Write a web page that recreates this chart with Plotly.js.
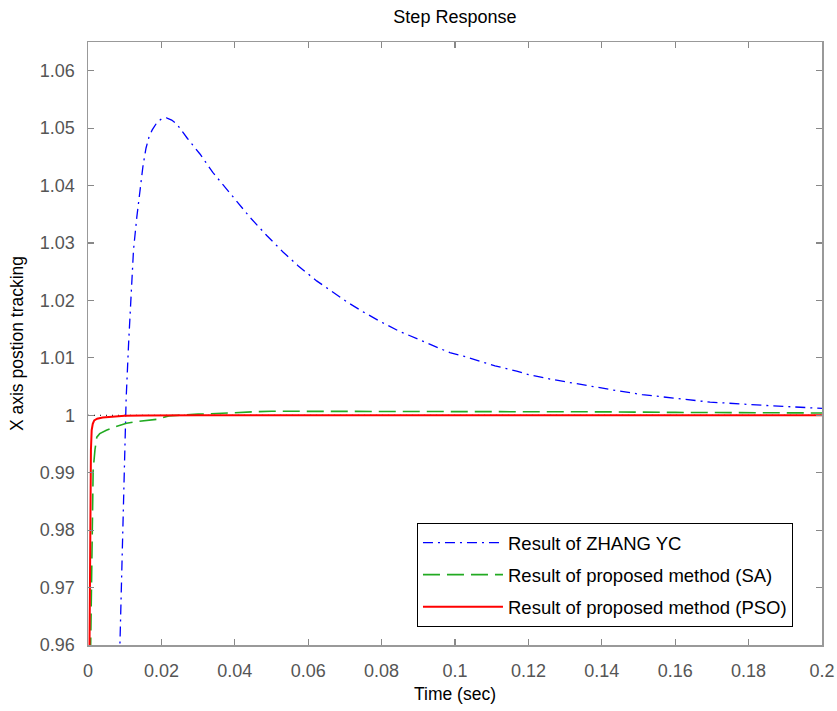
<!DOCTYPE html>
<html>
<head>
<meta charset="utf-8">
<script src="https://cdn.plot.ly/plotly-3.0.1.min.js"></script>
<style>html,body{margin:0;padding:0;background:#fff;}#chart{width:837px;height:711px;}</style>
</head>
<body>
<div id="chart"></div>
<script>
// Result of ZHANG YC
const zhangT = [0.0083, 0.0087, 0.0093, 0.0098, 0.0104, 0.0111, 0.0119, 0.0124, 0.0133, 0.0142, 0.0150, 0.0158, 0.0166, 0.0175, 0.0187, 0.0200, 0.0214, 0.0228, 0.0242, 0.0271, 0.0305, 0.0340, 0.0387, 0.0441, 0.0487, 0.0532, 0.0573, 0.0623, 0.0664, 0.0709, 0.0750, 0.0800, 0.0846, 0.0896, 0.0932, 0.0986, 0.1023, 0.1077, 0.1109, 0.1168, 0.1200, 0.1259, 0.1286, 0.1350, 0.1377, 0.1440, 0.1510, 0.1590, 0.1695, 0.1850, 0.1940, 0.2000];
const zhangY = [0.950, 0.960, 0.975, 0.990, 1.003, 1.013, 1.0218, 1.0288, 1.0345, 1.0392, 1.0435, 1.0465, 1.0484, 1.0497, 1.0509, 1.0516, 1.0518, 1.0514, 1.0507, 1.0482, 1.0455, 1.0423, 1.0386, 1.0345, 1.0313, 1.0284, 1.0260, 1.0234, 1.0216, 1.0196, 1.0180, 1.0162, 1.0147, 1.0133, 1.0123, 1.0109, 1.0103, 1.0093, 1.0086, 1.0077, 1.0071, 1.0063, 1.0060, 1.0052, 1.0049, 1.0043, 1.0036, 1.0030, 1.0023, 1.0017, 1.0014, 1.0012];

// Result of proposed method (SA)
const saT = [0.0005, 0.0007, 0.0010, 0.0014, 0.0019, 0.0024, 0.0032, 0.0040, 0.0050, 0.0070, 0.0090, 0.0105, 0.0130, 0.0160, 0.0187, 0.0220, 0.0260, 0.0300, 0.0350, 0.0400, 0.0450, 0.0500, 0.0600, 0.0800, 0.1000, 0.1200, 0.1400, 0.1600, 0.1800, 0.2000];
const saY = [0.950, 0.960, 0.976, 0.9904, 0.9940, 0.9962, 0.9968, 0.9971, 0.9974, 0.9979, 0.9983, 0.9986, 0.9989, 0.9991, 0.9993, 0.9999, 1.0001, 1.0002, 1.0003, 1.0005, 1.0006, 1.0007, 1.0007, 1.0007, 1.0007, 1.0007, 1.0006, 1.0005, 1.0004, 1.0004];

// Result of proposed method (PSO)
const psoT = [0.0003, 0.0005, 0.0008, 0.0010, 0.0013, 0.0017, 0.0025, 0.0040, 0.0060, 0.0100, 0.0150, 0.0200, 0.0300, 0.2000];
const psoY = [0.950, 0.975, 0.9940, 0.9974, 0.9985, 0.9991, 0.9994, 0.9996, 0.9997, 0.9999, 0.99995, 1.0000, 1.0000, 1.0000];

// Reference (unit step)
const refT = [0, 0.2];
const refY = [1, 1];

const seriesNames = ["Result of ZHANG YC", "Result of proposed method (SA)", "Result of proposed method (PSO)"];

const xTickVals = [0, 0.02, 0.04, 0.06, 0.08, 0.1, 0.12, 0.14, 0.16, 0.18, 0.2];
const xTickText = ["0", "0.02", "0.04", "0.06", "0.08", "0.1", "0.12", "0.14", "0.16", "0.18", "0.2"];
const yTickVals = [0.96, 0.97, 0.98, 0.99, 1.0, 1.01, 1.02, 1.03, 1.04, 1.05, 1.06];
const yTickText = ["0.96", "0.97", "0.98", "0.99", "1", "1.01", "1.02", "1.03", "1.04", "1.05", "1.06"];

const FONT = "Liberation Sans, Arial, sans-serif";

const traces = [
  {x: refT, y: refY, mode: "lines", showlegend: false, hoverinfo: "skip",
   line: {color: "#000000", width: 1, dash: "1px,5px"}},
  {x: zhangT, y: zhangY, mode: "lines", name: seriesNames[0], legendgroup: "a",
   line: {color: "#0000ff", width: 1.3, dash: "10px,5px,2px,5px"}},
  {x: saT, y: saY, mode: "lines", name: seriesNames[1], legendgroup: "b",
   line: {color: "#22aa22", width: 1.6, dash: "17px,7px"}},
  {x: psoT, y: psoY, mode: "lines", name: seriesNames[2], legendgroup: "c",
   line: {color: "#ff0000", width: 2}}
];

const axisCommon = {
  showgrid: false, zeroline: false, showline: true, mirror: "ticks",
  linecolor: "#999999", linewidth: 1.5, ticks: "inside", ticklen: 6,
  tickcolor: "#888888", tickwidth: 1.2,
  tickfont: {family: FONT, size: 18, color: "#555555"}
};

const layout = {
  width: 837, height: 711,
  margin: {l: 88, r: 15, t: 42, b: 66},
  paper_bgcolor: "#ffffff", plot_bgcolor: "#ffffff",
  title: {text: "Step Response", x: 0.5435, xanchor: "center", y: 0.976, yanchor: "middle",
          font: {family: FONT, size: 18, color: "#000000"}},
  xaxis: Object.assign({}, axisCommon, {
    range: [0, 0.2], tickvals: xTickVals, ticktext: xTickText, ticklabelstandoff: 9,
    title: {text: "Time (sec)", standoff: 7, font: {family: FONT, size: 17.5, color: "#000000"}}
  }),
  yaxis: Object.assign({}, axisCommon, {
    range: [0.96, 1.065], tickvals: yTickVals, ticktext: yTickText, ticklabelstandoff: 8,
    title: {text: "X axis postion tracking", standoff: 11, font: {family: FONT, size: 17.5, color: "#000000"}}
  }),
  showlegend: true,
  legend: {
    x: 0.4482, xanchor: "left", y: 0.2023, yanchor: "top",
    bgcolor: "#ffffff", bordercolor: "#000000", borderwidth: 1,
    font: {family: FONT, size: 18.5, color: "#000000"},
    itemwidth: 80, traceorder: "grouped", tracegroupgap: 5
  }
};

Plotly.newPlot("chart", traces, layout, {displayModeBar: false, staticPlot: true});
</script>
</body>
</html>
